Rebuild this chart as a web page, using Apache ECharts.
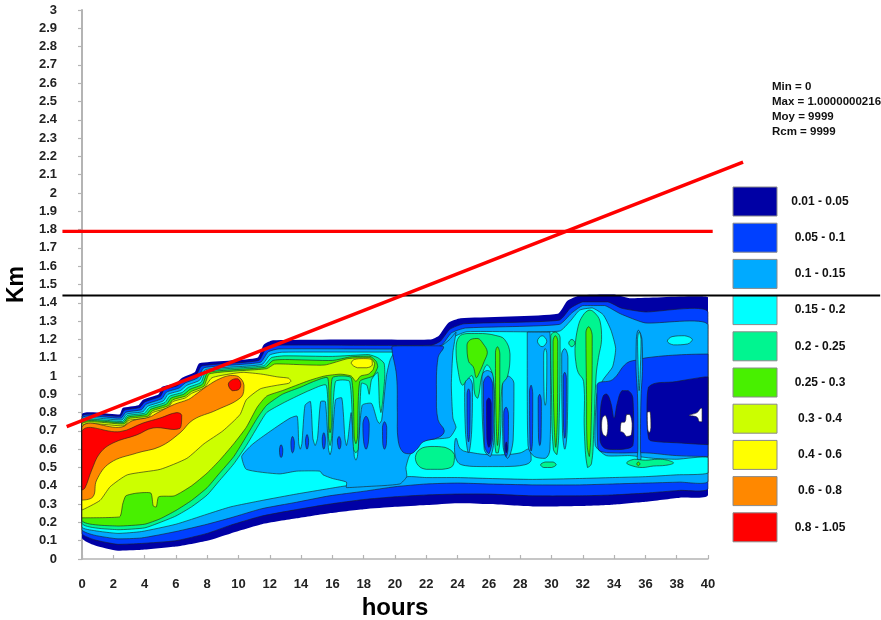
<!DOCTYPE html>
<html>
<head>
<meta charset="utf-8">
<script src="https://cdn.jsdelivr.net/npm/echarts/dist/echarts.min.js"></script>
<style>
  html, body { margin: 0; padding: 0; background: #ffffff; }
  #chart { width: 881px; height: 620px; }
</style>
</head>
<body>
<div id="chart"></div>
<script>
// ---- colour classes of the field (value ranges) ----
const levelLabels = ['0.01 - 0.05', '0.05 - 0.1', '0.1 - 0.15', '0.15 - 0.2', '0.2 - 0.25',
                     '0.25 - 0.3', '0.3 - 0.4', '0.4 - 0.6', '0.6 - 0.8', '0.8 - 1.05'];
const statLines = ['Min = 0', 'Max = 1.0000000216', 'Moy = 9999', 'Rcm = 9999'];

// ---- reference lines (hours, km) ----
const trendLine = [[-0.98, 0.723], [42.24, 2.169]];
const redLevel = [[-1.25, 1.79], [40.3, 1.79]];
const blackLevel = [[-1.25, 1.44], [51, 1.44]];

// ---- filled contour outlines, [hours, km] ----
// outer limit of the field (>= 0.01)
const envelope = [[0,0.79],[2.4,0.79],[2.6,0.825],[3.6,0.84],[3.9,0.87],[4.9,0.9],[5.1,0.94],[6,0.96],[6.4,0.99],[7.2,1.02],[7.5,1.07],[11.2,1.1],[11.6,1.17],[12.2,1.195],[18.5,1.2],[22.3,1.2],[22.8,1.22],[23.4,1.29],[24.2,1.315],[30.4,1.34],[31,1.41],[31.8,1.44],[34,1.445],[35,1.425],[40,1.43],
  [40,0.35],[38.2,0.335],[36,0.313],[33.9,0.297],[31.8,0.29],[28.8,0.287],[26,0.3],[24,0.305],[22,0.295],[20,0.285],[18,0.272],[15.8,0.25],[13.7,0.222],[11.5,0.19],[9.5,0.14],[8,0.1],[6,0.068],[3.8,0.05],[2.3,0.045],[0.8,0.075],[0,0.115]];
// >= 0.05
const blueZone = [[0,0.78],[2.45,0.78],[2.7,0.813],[3.7,0.828],[4,0.858],[5,0.888],[5.25,0.925],[6.1,0.947],[6.5,0.975],[7.3,1.005],[7.65,1.055],[11.3,1.085],[11.75,1.15],[12.4,1.168],[22.3,1.168],[22.9,1.19],[23.5,1.255],[24.4,1.285],[30.5,1.305],[31.2,1.37],[32,1.405],[33.6,1.405],[34.5,1.37],[36,1.35],[40,1.35],
  [40,0.385],[38.2,0.375],[36,0.36],[33.9,0.35],[31.8,0.345],[28.8,0.345],[26,0.355],[24,0.355],[22,0.35],[20,0.34],[18,0.325],[15.8,0.3],[13.7,0.27],[11.5,0.235],[9.5,0.185],[8,0.14],[6,0.1],[3.8,0.085],[2.3,0.08],[0.8,0.105],[0,0.14]];
// >= 0.1
const lightBlueZone = [[0,0.77],[2.5,0.77],[2.8,0.802],[3.8,0.816],[4.1,0.846],[5.1,0.876],[5.4,0.912],[6.2,0.934],[6.6,0.962],[7.4,0.99],[7.8,1.045],[11.4,1.075],[11.9,1.132],[12.6,1.148],[22.3,1.148],[23,1.17],[23.6,1.235],[24.5,1.262],[30.5,1.282],[31.3,1.345],[32,1.385],[33.4,1.385],[34.4,1.34],[36,1.29],[40,1.28],
  [40,0.425],[38.2,0.42],[36,0.415],[33.9,0.41],[31.8,0.405],[28.8,0.405],[26,0.41],[24,0.415],[22,0.41],[20,0.395],[18,0.37],[15.8,0.345],[13.7,0.31],[11.5,0.275],[9.5,0.225],[8,0.19],[6,0.15],[3.8,0.115],[2.3,0.11],[0.8,0.13],[0,0.16]];
// >= 0.15
const cyanZone = [[0,0.76],[2.55,0.76],[2.85,0.792],[3.9,0.805],[4.2,0.835],[5.2,0.864],[5.5,0.9],[6.3,0.921],[6.7,0.949],[7.5,0.976],[7.9,1.035],[11.5,1.063],[12,1.115],[12.8,1.13],[22.3,1.132],[23.1,1.152],[23.8,1.215],[24.6,1.242],[30.5,1.245],[31.2,1.3],[31.8,1.36],[32.6,1.372],[33.3,1.335],[33.8,1.25],[34.1,1.15],[33.9,1.05],[33.3,0.98],[32.9,0.9],[32.8,0.62],[33.5,0.565],[35,0.565],[36.5,0.55],[38,0.545],[40,0.555],
  [40,0.47],[38,0.46],[36,0.45],[33.9,0.445],[31.8,0.44],[28.8,0.435],[26,0.44],[24,0.445],[22,0.445],[20.8,0.45],[20,0.42],[18,0.405],[16.9,0.4],[15.8,0.385],[13.7,0.355],[11.5,0.32],[9.5,0.285],[8,0.245],[6,0.19],[3.8,0.15],[2.3,0.14],[0.8,0.155],[0,0.175]];

// lower pockets inside the cyan zone
const zone1Interior = [[10.2,0.56],[10.8,0.62],[11.4,0.66],[12.4,0.72],[13.3,0.77],[13.75,0.78],[13.85,0.63],[13.95,0.6],[14.05,0.63],[14.25,0.84],[14.6,0.86],[14.75,0.66],[14.9,0.62],[15.05,0.66],[15.25,0.86],[15.55,0.86],[15.75,0.6],[15.85,0.57],[15.95,0.6],[16.2,0.87],[16.6,0.88],[16.8,0.66],[16.9,0.62],[17,0.66],[17.2,0.8],[17.4,0.56],[17.5,0.54],[17.6,0.56],[17.9,0.84],[18.5,0.85],[18.85,0.76],[19,0.74],[19.15,0.76],[19.45,1],[19.7,1.09],[20.1,1.14],[22.3,1.14],[22.9,1.16],[23.5,1.2],[23.9,1.24],[23.7,1.13],[23.6,0.95],[23.7,0.77],[23.9,0.72],[23.5,0.665],[22.5,0.655],[21.8,0.645],[21.3,0.61],[20.9,0.56],[20.7,0.5],[20.75,0.45],[20.3,0.41],[18,0.395],[16.9,0.39],[16.9,0.42],[16,0.44],[15.4,0.46],[15.2,0.48],[13.7,0.48],[12.6,0.465],[10.5,0.49]];
const blueTongue = [[19.8,1.16],[20.1,1],[20.15,0.8],[20.2,0.65],[20.5,0.585],[21,0.575],[21.4,0.6],[21.8,0.64],[22.8,0.665],[23.15,0.7],[22.75,0.76],[22.65,0.9],[22.75,1.1],[23.1,1.16],[22.5,1.165],[20.5,1.165]];
const zone1Pockets = [
  [[12.62,0.6],[12.72,0.625],[12.83,0.6],[12.8,0.565],[12.72,0.555],[12.65,0.565]],
  [[13.35,0.64],[13.45,0.67],[13.57,0.64],[13.55,0.6],[13.45,0.58],[13.37,0.6]],
  [[14.28,0.65],[14.38,0.68],[14.48,0.65],[14.46,0.62],[14.38,0.6],[14.3,0.62]],
  [[15.35,0.66],[15.45,0.69],[15.55,0.66],[15.53,0.62],[15.45,0.6],[15.37,0.62]],
  [[16.32,0.65],[16.43,0.67],[16.55,0.64],[16.52,0.61],[16.43,0.6],[16.35,0.62]],
  [[17.95,0.74],[18.15,0.78],[18.35,0.74],[18.3,0.64],[18.15,0.6],[18,0.64]],
  [[19.2,0.72],[19.33,0.75],[19.47,0.72],[19.45,0.63],[19.33,0.6],[19.22,0.63]]
];
const zone2Lower = [[23.9,0.66],[24.2,0.6],[25,0.58],[26,0.57],[27,0.57],[28,0.58],[28.6,0.6],[28.7,0.54],[28.3,0.515],[27,0.505],[25.5,0.505],[24.5,0.51],[24,0.53],[23.8,0.6]];
const stripA = [[24.45,0.95],[24.7,0.99],[24.95,0.95],[24.9,0.7],[24.7,0.58],[24.5,0.7]];
const stripB = [[25.55,1],[25.9,1.03],[26.3,1],[26.35,0.7],[26.1,0.56],[25.7,0.6]];
const stripC = [[26.85,0.97],[27.2,1],[27.6,0.96],[27.55,0.65],[27.2,0.55],[26.9,0.62]];
const stripD = [[28.45,1.24],[29.9,1.24],[29.95,0.9],[29.9,0.6],[29.6,0.55],[28.9,0.56],[28.5,0.62],[28.45,0.9]];
const stripE = [[30.65,1.12],[30.85,1.15],[31.05,1.1],[31,0.7],[30.85,0.6],[30.7,0.7]];
const coreA = [[24.6,0.9],[24.7,0.93],[24.8,0.9],[24.78,0.7],[24.7,0.64],[24.62,0.7]];
const coreB = [[25.65,0.96],[25.95,1],[26.25,0.95],[26.27,0.7],[26,0.575],[25.72,0.62]];
const coreC = [[26.95,0.8],[27.1,0.83],[27.25,0.79],[27.22,0.6],[27.1,0.56],[26.98,0.6]];
const coreD1 = [[28.6,0.92],[28.7,0.95],[28.8,0.9],[28.78,0.64],[28.7,0.59],[28.62,0.64]];
const coreD2 = [[29.15,0.88],[29.25,0.9],[29.35,0.86],[29.33,0.66],[29.25,0.62],[29.17,0.66]];
const coreE = [[30.75,1],[30.85,1.02],[30.95,0.99],[30.93,0.72],[30.85,0.66],[30.77,0.72]];
const navyCoreB = [[25.85,0.86],[26,0.88],[26.15,0.85],[26.15,0.66],[26,0.61],[25.87,0.66]];
const navyCoreC = [[27.05,0.62],[27.12,0.64],[27.18,0.6],[27.1,0.58]];
const rightBlue = [[32.95,0.62],[32.9,0.95],[33.9,0.98],[34.8,1.07],[35.6,1.09],[36.1,1.1],[38,1.115],[40,1.12],[40,0.56],[38,0.565],[36,0.58],[34,0.58],[33.1,0.59]];
const rightNavy = [[36.2,0.66],[36.1,0.8],[36.2,0.94],[38,0.97],[39.8,0.995],[40,0.995],[40,0.625],[38,0.635],[36.4,0.645]];
const navyLobes = [[33.1,0.65],[33.12,0.8],[33.3,0.89],[33.55,0.9],[33.8,0.85],[34,0.77],[34.2,0.85],[34.5,0.92],[34.9,0.92],[35.2,0.88],[35.25,0.7],[35.2,0.62],[34.6,0.6],[34,0.598],[33.4,0.605]];
const emptyCells = [
  [[33.25,0.77],[33.45,0.785],[33.6,0.73],[33.5,0.67],[33.3,0.68],[33.2,0.72]],
  [[34.4,0.7],[34.45,0.745],[34.7,0.75],[34.8,0.79],[35,0.79],[35.15,0.74],[35.1,0.68],[34.8,0.67],[34.6,0.69]],
  [[36.12,0.8],[36.3,0.805],[36.35,0.72],[36.25,0.69],[36.15,0.71]],
  [[38.8,0.785],[39.3,0.8],[39.55,0.825],[39.62,0.82],[39.62,0.75],[39.45,0.75],[39.3,0.775]]
];
const lightBlueSpike = [[35.42,1.2],[35.55,1.25],[35.78,1.2],[35.82,1.05],[35.72,0.88],[35.68,0.6],[35.7,0.54],[35.5,0.54],[35.52,0.6],[35.5,0.88],[35.4,1.05]];
const cyanSpikeTip = [[35.5,1.2],[35.6,1.24],[35.72,1.2],[35.68,1.05],[35.6,0.92],[35.54,1.05]];
const cyanOval = [[37.4,1.19],[37.7,1.215],[38.5,1.22],[39,1.2],[38.7,1.175],[37.8,1.17]];
const cyanCircle = [[29.1,1.19],[29.4,1.22],[29.7,1.19],[29.4,1.16]];
const cyanColumn = [[29.5,1.12],[29.6,1.15],[29.7,1.12],[29.67,0.88],[29.6,0.84],[29.53,0.88]];

// >= 0.2
const springMain = [[0,0.752],[2.6,0.752],[2.9,0.784],[4,0.797],[4.3,0.827],[5.3,0.855],[5.6,0.89],[6.4,0.91],[6.8,0.938],[7.6,0.965],[7.95,1.028],[11.6,1.056],[12.1,1.1],[12.9,1.11],[16,1.107],[18.3,1.117],[18.9,1.1],[19.3,1.07],[19.35,1],[19.2,0.85],[19.1,0.8],[19,0.85],[18.9,1.02],[18.5,0.98],[18.35,0.9],[18.2,0.95],[17.85,0.96],[17.65,0.6],[17.5,0.58],[17.35,0.6],[17.1,0.97],[16.2,0.97],[15.95,0.66],[15.85,0.62],[15.75,0.66],[15.6,0.95],[14.5,0.92],[13.5,0.88],[12.8,0.85],[11.8,0.8],[11.2,0.72],[10.5,0.62],[9.7,0.52],[8.7,0.42],[8,0.35],[7,0.285],[6,0.235],[5,0.2],[4,0.17],[2.3,0.16],[0,0.195]];
const springHand = [[23.9,1.15],[24.1,1.215],[24.6,1.232],[25.6,1.232],[26.4,1.222],[27,1.2],[27.35,1.12],[27.2,1],[26.85,0.95],[26.75,0.7],[26.6,0.58],[26.45,0.58],[26.35,0.7],[26.3,0.98],[25.9,1.06],[25.55,1],[25.3,0.88],[25.1,0.9],[24.95,1],[24.6,0.98],[24.3,0.95],[24.05,1.02]];
const springColumn = [[29.95,1.22],[30.25,1.24],[30.55,1.21],[30.5,0.8],[30.35,0.57],[30.12,0.6],[30,0.9]];
const springRight = [[31.5,1.15],[31.7,1.27],[32,1.33],[32.4,1.36],[32.7,1.35],[33.1,1.3],[33.2,1.2],[33,1.1],[32.85,1],[32.7,0.7],[32.55,0.52],[32.3,0.5],[32.1,0.7],[32.05,0.97],[31.7,1.02],[31.55,1.08]];
const springCircle = [[31.1,1.18],[31.3,1.2],[31.5,1.18],[31.3,1.16]];
const springOvals = [
  [[21.3,0.555],[21.6,0.6],[22.3,0.615],[23.2,0.61],[23.8,0.57],[23.7,0.51],[23,0.49],[22,0.49],[21.5,0.51]],
  [[29.3,0.515],[29.6,0.53],[30.1,0.53],[30.3,0.515],[30,0.5],[29.5,0.5]],
  [[34.8,0.525],[35.3,0.545],[36,0.54],[36.8,0.545],[37.4,0.54],[37.8,0.525],[37.3,0.512],[36.5,0.508],[35.8,0.5],[35.2,0.508]]
];
// >= 0.25
const greenMain = [[0,0.745],[2.65,0.745],[2.95,0.776],[4.1,0.789],[4.4,0.818],[5.4,0.846],[5.7,0.88],[6.5,0.9],[6.9,0.927],[7.7,0.955],[8.05,1.02],[11.7,1.048],[12.2,1.085],[13,1.09],[16,1.085],[17.2,1.105],[18.4,1.108],[18.8,1.08],[18.9,1.05],[18.6,1],[17.75,0.97],[17.6,0.66],[17.5,0.63],[17.4,0.66],[17.2,0.99],[16,0.99],[15.92,0.72],[15.85,0.69],[15.78,0.72],[15.7,0.99],[14.8,0.97],[14,0.94],[12.8,0.9],[11.8,0.84],[11.2,0.77],[10.5,0.67],[9.7,0.56],[8.7,0.46],[8,0.39],[7,0.32],[6,0.265],[5,0.22],[4,0.19],[2.3,0.18],[0,0.21]];
const greenHandCore = [[24.6,1.17],[24.85,1.2],[25.3,1.205],[25.6,1.18],[25.9,1.13],[25.7,1.08],[25.4,1.02],[25.2,0.99],[25,1.05],[24.7,1.08]];
const greenSpike = [[26.42,1.13],[26.55,1.16],[26.7,1.12],[26.66,0.8],[26.55,0.62],[26.45,0.8]];
const greenColumn1 = [[30.1,1.19],[30.25,1.22],[30.4,1.19],[30.38,0.8],[30.27,0.61],[30.15,0.8]];
const greenColumn2 = [[32.2,1.24],[32.38,1.27],[32.6,1.22],[32.55,0.8],[32.42,0.56],[32.28,0.62],[32.24,0.9]];
const greenDot = [[35.45,0.52],[35.55,0.53],[35.65,0.52],[35.55,0.51]];
// >= 0.3
const ygMain = [[0,0.738],[2.7,0.738],[3,0.768],[4.2,0.78],[4.5,0.81],[5.5,0.837],[5.8,0.87],[6.6,0.89],[7,0.916],[7.8,0.945],[8.15,1.012],[11.8,1.04],[12.3,1.065],[13,1.065],[15.5,1.06],[17,1.095],[18.4,1.1],[18.7,1.07],[18.6,1.035],[18.3,1.01],[17.8,1],[17.5,0.97],[17.2,1],[16.5,1.01],[15.5,1],[14.5,0.975],[12.8,0.92],[11.8,0.89],[11.2,0.83],[10.5,0.72],[9.7,0.63],[8.8,0.54],[8,0.47],[7,0.4],[5.9,0.345],[4.9,0.34],[4.75,0.285],[4.55,0.29],[4.4,0.36],[3.5,0.36],[2.8,0.345],[2.6,0.3],[2.4,0.23],[0,0.225]];
// >= 0.4
const yellowMain = [[0,0.728],[2.7,0.728],[3,0.758],[4.2,0.77],[4.5,0.8],[5.5,0.827],[5.8,0.86],[6.6,0.88],[7,0.905],[7.8,0.935],[8.3,0.99],[9.5,1.012],[10.3,1.02],[11.5,1.01],[12.5,0.995],[13.2,0.988],[13.35,0.972],[13.2,0.96],[12.5,0.95],[11.4,0.93],[10.5,0.87],[10.1,0.79],[9,0.7],[7.8,0.63],[6.7,0.55],[5,0.49],[2.9,0.46],[1.8,0.395],[1.15,0.32],[0,0.268]];
const yellowBlob = [[17.2,1.07],[17.4,1.09],[18,1.095],[18.5,1.09],[18.55,1.06],[18.2,1.045],[17.6,1.045]];
// >= 0.6
const orangeMain = [[0,0.72],[2.5,0.72],[3.2,0.755],[4.3,0.775],[4.8,0.798],[5.9,0.845],[6.8,0.872],[7.2,0.895],[8,0.945],[8.8,0.985],[9.5,1.003],[10,0.997],[10.35,0.95],[10.2,0.887],[8.6,0.814],[7.09,0.76],[6.26,0.689],[4.98,0.614],[3.5,0.579],[1.79,0.525],[0.94,0.432],[0.7,0.34],[0,0.322]];
// >= 0.8
const redMain = [[0,0.7],[2.43,0.696],[3.9,0.743],[4.98,0.77],[6.05,0.8],[6.37,0.785],[6.26,0.714],[4.54,0.716],[3.5,0.678],[1.98,0.634],[1.15,0.579],[0.62,0.486],[0.19,0.388],[0,0.377]];
const redBlob = [[9.35,0.955],[9.6,0.98],[9.95,0.985],[10.15,0.955],[10,0.925],[9.6,0.92]];

// ---- painting order: [class index (-1 = below 0.01), outline] ----
const layers = [
  [0, envelope], [1, blueZone], [2, lightBlueZone], [3, cyanZone],
  [2, zone1Interior], [1, blueTongue],
  ...zone1Pockets.map(p => [1, p]),
  [2, zone2Lower], [2, stripA], [2, stripB], [2, stripC], [2, stripD], [2, stripE],
  [1, coreA], [1, coreB], [1, coreC], [1, coreD1], [1, coreD2], [1, coreE],
  [0, navyCoreB], [0, navyCoreC],
  [1, rightBlue], [0, rightNavy], [0, navyLobes],
  ...emptyCells.map(p => [-1, p]),
  [2, lightBlueSpike],
  [3, cyanSpikeTip], [3, cyanOval], [3, cyanCircle], [3, cyanColumn],
  [4, springMain], [4, springHand], [4, springColumn], [4, springRight], [4, springCircle],
  ...springOvals.map(p => [4, p]),
  [5, greenMain], [5, greenHandCore], [5, greenSpike], [5, greenColumn1], [5, greenColumn2], [5, greenDot],
  [6, ygMain],
  [7, yellowMain], [7, yellowBlob],
  [8, orangeMain],
  [9, redMain], [9, redBlob]
];

const levelColors = ['#0000a5', '#0040ff', '#00aaff', '#00ffff', '#00f590',
                     '#48f000', '#ccff00', '#ffff00', '#ff8800', '#ff0000'];
const FONT = "'Liberation Sans', Arial, Helvetica, sans-serif";

// reference lines: outline + stroke
const guideLines = [
  { pts: blackLevel, color: '#000000', width: 1.8 },
  { pts: redLevel, color: '#ff0000', width: 3.2 },
  { pts: trendLine, color: '#ff0000', width: 3.5 }
];

const chart = echarts.init(document.getElementById('chart'), null, { renderer: 'canvas' });

const legendGraphics = levelLabels.map((label, i) => ({
  type: 'group',
  x: 733,
  y: 187 + i * 36.2,
  children: [
    { type: 'rect', shape: { x: 0, y: 0, width: 44, height: 29 },
      style: { fill: levelColors[i], stroke: '#8a8a8a', lineWidth: 1 } },
    { type: 'text', x: 87, y: 14.5,
      style: { text: label, fill: '#111', font: 'bold 12px ' + FONT,
               textAlign: 'center', textVerticalAlign: 'middle', align: 'center', verticalAlign: 'middle' } }
  ]
}));
const statGraphics = statLines.map((line, i) => ({
  type: 'text', x: 772, y: 87 + i * 15,
  style: { text: line, fill: '#111', font: 'bold 11.5px ' + FONT,
           textAlign: 'left', textVerticalAlign: 'middle', align: 'left', verticalAlign: 'middle' }
}));

const axisGray = '#b4b4b4';

function bounds(points) {
  let x0 = Infinity, y0 = Infinity, x1 = -Infinity, y1 = -Infinity;
  points.forEach(p => {
    x0 = Math.min(x0, p[0]); y0 = Math.min(y0, p[1]);
    x1 = Math.max(x1, p[0]); y1 = Math.max(y1, p[1]);
  });
  return [[x0, y0], [x1, y1]];
}

chart.setOption({
  animation: false,
  backgroundColor: '#ffffff',
  grid: { left: 82, right: 173, top: 10, bottom: 61, containLabel: false, outerBoundsMode: 'none' },
  xAxis: {
    type: 'value', min: 0, max: 40, interval: 2, offset: 14,
    name: 'hours', nameLocation: 'middle', nameGap: 22,
    nameTextStyle: { fontFamily: FONT, fontWeight: 'bold', fontSize: 24, color: '#000' },
    axisLine: { show: true, lineStyle: { color: axisGray, width: 1.5 } },
    axisTick: { show: true, inside: true, length: 4, lineStyle: { color: axisGray, width: 1.2 } },
    axisLabel: { margin: 5, fontFamily: FONT, fontWeight: 'bold', fontSize: 13, color: '#222' },
    splitLine: { show: false }
  },
  yAxis: {
    type: 'value', min: 0, max: 3, interval: 0.1, offset: 20,
    name: 'Km', nameLocation: 'middle', nameGap: 32,
    nameTextStyle: { fontFamily: FONT, fontWeight: 'bold', fontSize: 23, color: '#000' },
    axisLine: { show: true, lineStyle: { color: axisGray, width: 2 } },
    axisTick: { show: true, inside: false, length: 4, lineStyle: { color: axisGray, width: 1.2 } },
    axisLabel: { margin: 5, fontFamily: FONT, fontWeight: 'bold', fontSize: 13, color: '#222' },
    splitLine: { show: false }
  },
  graphic: [...legendGraphics, ...statGraphics],
  series: [
    {
      type: 'custom',
      coordinateSystem: 'cartesian2d',
      silent: true,
      clip: false,
      data: layers.map(l => l[1][0]),
      encode: { x: 0, y: 1 },
      renderItem: function (params, api) {
        const level = layers[params.dataIndex][0];
        const outline = layers[params.dataIndex][1];
        const points = outline.map(p => api.coord(p));
        const outer = params.dataIndex === 0;
        return {
          type: 'polygon',
          z2: params.dataIndex,
          shape: {
            points: points,
            smooth: outline.length > 24 ? 0.18 : 0.4,
            smoothConstraint: bounds(points)
          },
          style: {
            fill: level < 0 ? '#ffffff' : levelColors[level],
            stroke: outer ? null : '#1c1c1c',
            lineWidth: 0.6
          }
        };
      }
    },
    {
      type: 'custom',
      coordinateSystem: 'cartesian2d',
      silent: true,
      clip: false,
      z: 5,
      data: guideLines.map(g => g.pts[0]),
      encode: { x: 0, y: 1 },
      renderItem: function (params, api) {
        const g = guideLines[params.dataIndex];
        return {
          type: 'polyline',
          z2: params.dataIndex,
          shape: { points: g.pts.map(p => api.coord(p)) },
          style: { stroke: g.color, lineWidth: g.width, fill: null }
        };
      }
    }
  ]
});
</script>
</body>
</html>
